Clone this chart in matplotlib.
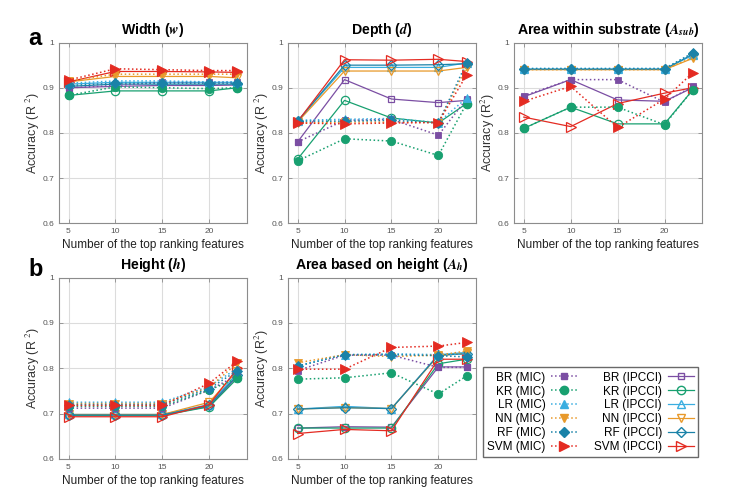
import matplotlib.pyplot as plt
from matplotlib.lines import Line2D

plt.rcParams['font.family'] = ['Liberation Sans', 'DejaVu Sans']
plt.rcParams['mathtext.fontset'] = 'stix'

# =============================================================================
# Data
# =============================================================================

N_FEATURES = [5, 10, 15, 20, 23]
MODELS = ['BR', 'KR', 'LR', 'NN', 'RF', 'SVM']

# rows follow MODELS order
width_mic = [
    [0.900, 0.905, 0.912, 0.912, 0.912],
    [0.883, 0.902, 0.900, 0.898, 0.900],
    [0.910, 0.915, 0.915, 0.913, 0.913],
    [0.915, 0.930, 0.930, 0.930, 0.930],
    [0.905, 0.910, 0.910, 0.910, 0.910],
    [0.917, 0.942, 0.940, 0.938, 0.938],
]
width_ipcci = [
    [0.900, 0.903, 0.905, 0.905, 0.906],
    [0.883, 0.893, 0.893, 0.893, 0.900],
    [0.908, 0.912, 0.912, 0.912, 0.912],
    [0.913, 0.925, 0.925, 0.925, 0.922],
    [0.903, 0.908, 0.908, 0.908, 0.908],
    [0.913, 0.936, 0.936, 0.935, 0.934],
]

depth_mic = [
    [0.780, 0.828, 0.830, 0.795, 0.875],
    [0.738, 0.787, 0.782, 0.750, 0.865],
    [0.828, 0.830, 0.832, 0.823, 0.877],
    [0.822, 0.824, 0.824, 0.823, 0.945],
    [0.826, 0.826, 0.828, 0.822, 0.955],
    [0.822, 0.820, 0.822, 0.823, 0.928],
]
depth_ipcci = [
    [0.780, 0.918, 0.875, 0.867, 0.872],
    [0.742, 0.872, 0.833, 0.822, 0.865],
    [0.826, 0.945, 0.945, 0.945, 0.955],
    [0.824, 0.937, 0.937, 0.937, 0.945],
    [0.826, 0.950, 0.950, 0.951, 0.953],
    [0.825, 0.962, 0.961, 0.963, 0.958],
]

asub_mic = [
    [0.882, 0.918, 0.918, 0.868, 0.903],
    [0.810, 0.857, 0.857, 0.818, 0.895],
    [0.943, 0.943, 0.943, 0.943, 0.975],
    [0.940, 0.940, 0.940, 0.940, 0.967],
    [0.942, 0.942, 0.942, 0.942, 0.977],
    [0.870, 0.903, 0.812, 0.875, 0.933],
]
asub_ipcci = [
    [0.880, 0.918, 0.873, 0.870, 0.900],
    [0.810, 0.857, 0.820, 0.820, 0.895],
    [0.941, 0.941, 0.941, 0.941, 0.972],
    [0.940, 0.940, 0.940, 0.940, 0.965],
    [0.941, 0.941, 0.941, 0.941, 0.974],
    [0.835, 0.814, 0.865, 0.888, 0.900],
]

height_mic = [
    [0.712, 0.712, 0.712, 0.752, 0.785],
    [0.716, 0.716, 0.716, 0.752, 0.778],
    [0.725, 0.725, 0.725, 0.760, 0.800],
    [0.722, 0.722, 0.722, 0.758, 0.812],
    [0.720, 0.720, 0.720, 0.755, 0.795],
    [0.718, 0.718, 0.718, 0.767, 0.816],
]
height_ipcci = [
    [0.697, 0.697, 0.697, 0.716, 0.782],
    [0.696, 0.696, 0.696, 0.715, 0.778],
    [0.698, 0.698, 0.698, 0.720, 0.790],
    [0.698, 0.698, 0.698, 0.725, 0.795],
    [0.697, 0.697, 0.697, 0.718, 0.785],
    [0.693, 0.693, 0.693, 0.720, 0.800],
]

ah_mic = [
    [0.795, 0.829, 0.829, 0.802, 0.802],
    [0.776, 0.779, 0.790, 0.743, 0.783],
    [0.805, 0.830, 0.832, 0.830, 0.832],
    [0.812, 0.830, 0.826, 0.829, 0.838],
    [0.805, 0.830, 0.830, 0.828, 0.825],
    [0.798, 0.798, 0.846, 0.849, 0.857],
]
ah_ipcci = [
    [0.668, 0.671, 0.670, 0.803, 0.803],
    [0.668, 0.668, 0.668, 0.810, 0.820],
    [0.710, 0.716, 0.711, 0.830, 0.835],
    [0.710, 0.713, 0.711, 0.828, 0.833],
    [0.710, 0.713, 0.711, 0.829, 0.832],
    [0.656, 0.665, 0.662, 0.820, 0.820],
]

# =============================================================================
# Styling
# =============================================================================

COLORS = ['#7b4ea3', '#18a070', '#3aaee0', '#e8992a', '#1a82a8', '#e42b22']
MARKERS = ['s', 'o', '^', 'v', 'D', '>']
MSIZE = [5, 6, 6, 6, 5, 6.5]

GRID_COLOR = '#dcdcdc'
FRAME_COLOR = '#8c8c8c'
TICK_COLOR = '#555555'


def draw_panel(ax, mic, ipcci, title, ylabel):
    for i in range(len(MODELS)):
        ax.plot(N_FEATURES, ipcci[i], linestyle='-', linewidth=0.9,
                color=COLORS[i], marker=MARKERS[i], markersize=MSIZE[i],
                markerfacecolor='none', markeredgewidth=0.9, zorder=3)
    for i in range(len(MODELS)):
        ax.plot(N_FEATURES, mic[i], linestyle=':', linewidth=1.1,
                color=COLORS[i], marker=MARKERS[i], markersize=MSIZE[i],
                markerfacecolor=COLORS[i], markeredgewidth=0.6, zorder=4)

    ax.set_xlim(4, 24)
    ax.set_ylim(0.6, 1.0)
    ax.set_xticks([5, 10, 15, 20])
    ax.set_yticks([0.6, 0.7, 0.8, 0.9, 1.0])
    ax.set_yticklabels(['0.6', '0.7', '0.8', '0.9', '1'])
    ax.grid(True, color=GRID_COLOR, linewidth=0.8)
    ax.set_axisbelow(True)
    ax.tick_params(direction='in', length=3, width=0.6, labelsize=6,
                   colors=FRAME_COLOR, labelcolor=TICK_COLOR,
                   top=True, right=True)
    for s in ax.spines.values():
        s.set_color(FRAME_COLOR)
        s.set_linewidth(0.8)

    ax.set_title(title, fontsize=10.2, fontweight='bold', pad=6)
    ax.set_ylabel(ylabel, fontsize=9, color='#333333', labelpad=0.5)
    ax.set_xlabel('Number of the top ranking features', fontsize=8.5,
                  color='#222222', labelpad=3)


fig = plt.figure(figsize=(7.39, 4.95), dpi=100)

W = 0.254
H = 0.365
ax1 = fig.add_axes([0.080, 0.549, W, H])
ax2 = fig.add_axes([0.390, 0.549, W, H])
ax3 = fig.add_axes([0.696, 0.549, W, H])
ax4 = fig.add_axes([0.080, 0.073, W, 0.366])
ax5 = fig.add_axes([0.390, 0.073, W, 0.366])

draw_panel(ax1, width_mic, width_ipcci, r'Width ($\mathbfit{w}$)',
           'Accuracy (R $^2$)')
draw_panel(ax2, depth_mic, depth_ipcci, r'Depth ($\mathbfit{d}$)',
           'Accuracy (R $^2$)')
draw_panel(ax3, asub_mic, asub_ipcci,
           r'Area within substrate ($\mathbfit{A}_{\mathbfit{sub}}$)',
           'Accuracy (R$^2$)')
draw_panel(ax4, height_mic, height_ipcci, r'Height ($\mathbfit{h}$)',
           'Accuracy (R $^2$)')
draw_panel(ax5, ah_mic, ah_ipcci,
           r'Area based on height ($\mathbfit{A}_{\mathbfit{h}}$)',
           'Accuracy (R$^2$)')

fig.text(0.038, 0.91, 'a', fontsize=17, fontweight='bold')
fig.text(0.038, 0.442, 'b', fontsize=17, fontweight='bold')

# Legend: MIC column first, then IPCCI
handles = []
for i, m in enumerate(MODELS):
    handles.append(Line2D([0], [0], linestyle=':', linewidth=1.1, color=COLORS[i],
                          marker=MARKERS[i], markersize=MSIZE[i],
                          markerfacecolor=COLORS[i], label=f'{m} (MIC)'))
for i, m in enumerate(MODELS):
    handles.append(Line2D([0], [0], linestyle='-', linewidth=0.9, color=COLORS[i],
                          marker=MARKERS[i], markersize=MSIZE[i],
                          markerfacecolor='none', label=f'{m} (IPCCI)'))

leg = fig.legend(handles=handles, ncol=2, markerfirst=False,
                 loc='center', bbox_to_anchor=(0.799, 0.167),
                 fontsize=8.5, frameon=True, fancybox=False,
                 edgecolor='#444444', handlelength=2.2, handletextpad=0.5,
                 columnspacing=1.4, labelspacing=0.16, borderpad=0.35)
leg.get_frame().set_linewidth(1.0)

fig.savefig('out.png', dpi=100, facecolor='white')
